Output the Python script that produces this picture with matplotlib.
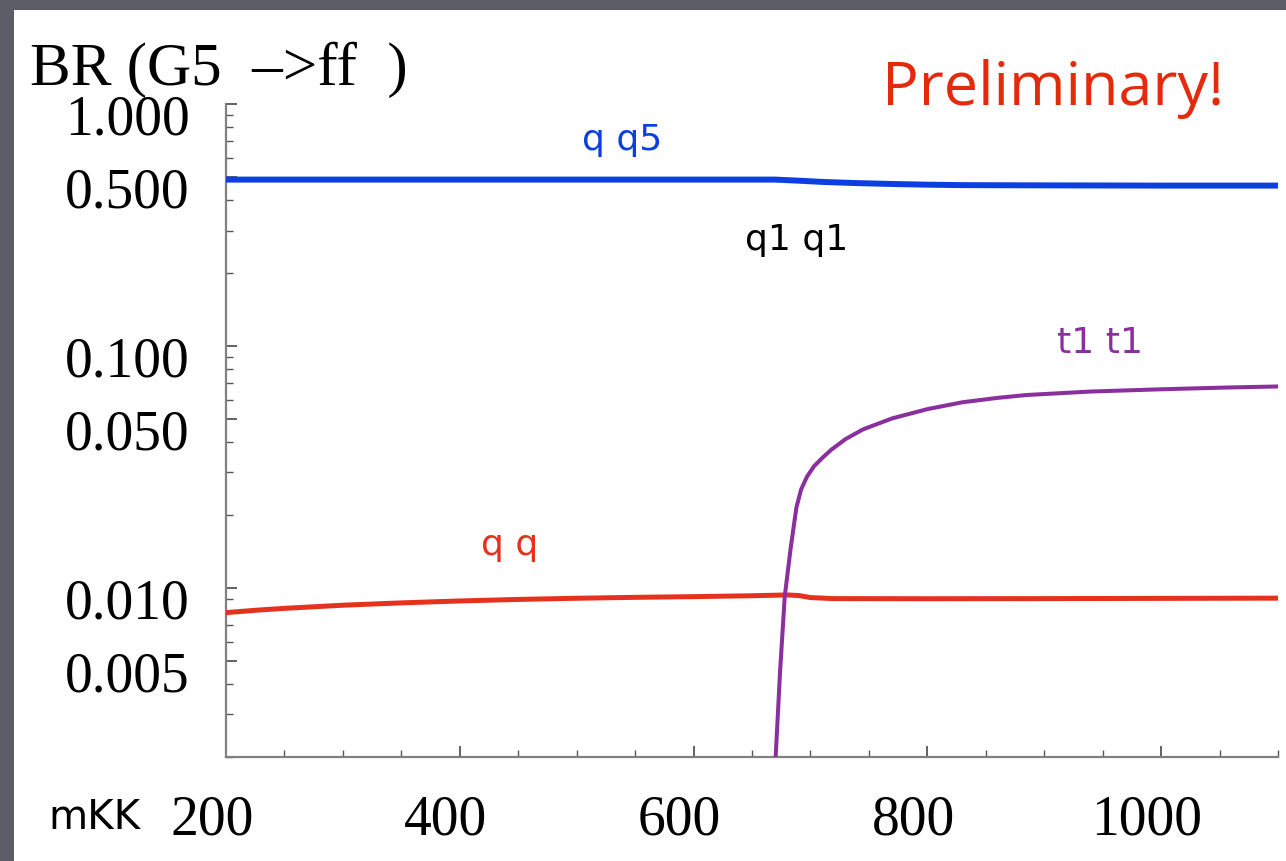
import numpy as np
import matplotlib
matplotlib.use("Agg")
import matplotlib.pyplot as plt
import matplotlib.transforms as mtransforms
from matplotlib.ticker import FixedLocator, LogLocator, NullFormatter, MultipleLocator

# masses (mKK) and branching ratios
m_qq5 = [200, 300, 400, 500, 600, 670, 690, 712, 740, 771, 800, 831, 900, 1000, 1100]
br_qq5 = [0.487, 0.487, 0.487, 0.487, 0.487, 0.487, 0.482, 0.476, 0.471, 0.467, 0.464, 0.462, 0.461, 0.460, 0.460]

m_qq = [200, 225, 250, 300, 350, 400, 450, 500, 550, 600, 650, 680, 690, 700, 720, 800, 900, 1000, 1100]
br_qq = [0.0079, 0.00808, 0.00823, 0.00848, 0.00867, 0.00883, 0.00896, 0.00906, 0.00914, 0.0092,
         0.00928, 0.00935, 0.0093, 0.00912, 0.00903, 0.00902, 0.00903, 0.00905, 0.00907]

m_tt = [670, 674, 678, 683, 688, 692, 697, 703, 710, 718, 730, 745, 770, 800, 830, 860,
        885, 940, 1000, 1055, 1100]
br_tt = [0.0019, 0.0045, 0.0092, 0.0145, 0.0215, 0.0255, 0.0288, 0.0318, 0.0344, 0.0373,
         0.0412, 0.0452, 0.0502, 0.0548, 0.0585, 0.0610, 0.0627, 0.0648, 0.0662, 0.0673, 0.068]

xticks = [200, 400, 600, 800, 1000]
yticks = [1.0, 0.5, 0.1, 0.05, 0.01, 0.005]
ytick_labels = ["1.000", "0.500", "0.100", "0.050", "0.010", "0.005"]

W, H = 1286, 862
fig = plt.figure(figsize=(W / 100, H / 100), dpi=100, facecolor="#5b5e67")
# white slide panel
fig.patches.append(plt.Rectangle((14 / W, 0), 1, 1 - 11 / H, transform=fig.transFigure,
                                 facecolor="white", edgecolor="none", zorder=-10))

ax = fig.add_axes([226 / W, 1 - 758 / H, (1278 - 226) / W, (758 - 105) / H])
ax.set_facecolor("none")

ax.plot(m_qq5, br_qq5, color="#0b3fe0", lw=4.3, solid_capstyle="butt", zorder=3)
ax.plot(m_qq, br_qq, color="#e5321f", lw=3.6, solid_capstyle="butt", zorder=3)
ax.plot(m_tt, br_tt, color="#8a2f9e", lw=2.9, solid_capstyle="butt", zorder=4)

ax.set_yscale("log")
ax.set_xlim(200, 1100)
ax.set_ylim(0.002, 1.0)

for s in ["top", "right"]:
    ax.spines[s].set_visible(False)
for s in ["left", "bottom"]:
    ax.spines[s].set_color("#808080")
    ax.spines[s].set_linewidth(1.6)

ax.xaxis.set_major_locator(FixedLocator(xticks))
ax.xaxis.set_minor_locator(MultipleLocator(50))
ax.set_yticks(yticks, labels=ytick_labels)
ax.yaxis.set_minor_locator(LogLocator(base=10, subs=[2, 3, 4, 6, 7, 8, 9]))
ax.yaxis.set_minor_formatter(NullFormatter())

ax.tick_params(which="both", direction="in", color="#555555")
ax.tick_params(which="major", length=8, width=1.3, labelsize=40, pad=26)
ax.tick_params(which="minor", length=5, width=1.0)

for lab in ax.get_xticklabels() + ax.get_yticklabels():
    lab.set_fontfamily("Liberation Serif")

dx = mtransforms.ScaledTranslation(-0.14, 0, fig.dpi_scale_trans)
dy = mtransforms.ScaledTranslation(0, -0.10, fig.dpi_scale_trans)
for t in ax.xaxis.get_major_ticks():
    t.label1.set_transform(t.label1.get_transform() + dx)
for t in ax.yaxis.get_major_ticks():
    t.label1.set_transform(t.label1.get_transform() + dy)

def fx(px):
    return px / W

def fy(py):
    return 1 - py / H

fig.text(fx(30), fy(70), "BR (G5  \u2013>ff  )", fontsize=44, family="Liberation Serif",
         va="center", ha="left")
fig.text(fx(48), fy(818), "mKK", fontsize=29, family="DejaVu Sans", va="center", ha="left")
fig.text(fx(1224), fy(89), "Preliminary!", fontsize=44, family="Open Sans", color="#e52a0c",
         va="center", ha="right")

fig.text(fx(622), fy(140), "q q5", fontsize=26, family="DejaVu Sans", color="#0b3fe0",
         va="center", ha="center")
fig.text(fx(797), fy(240), "q1 q1", fontsize=26, family="DejaVu Sans", color="black",
         va="center", ha="center")
fig.text(fx(1100), fy(343), "t1 t1", fontsize=26, family="DejaVu Sans", color="#8a2f9e",
         va="center", ha="center")
fig.text(fx(510), fy(545), "q q", fontsize=26, family="DejaVu Sans", color="#e5321f",
         va="center", ha="center")

fig.savefig("out.png", dpi=100, facecolor=fig.get_facecolor())
